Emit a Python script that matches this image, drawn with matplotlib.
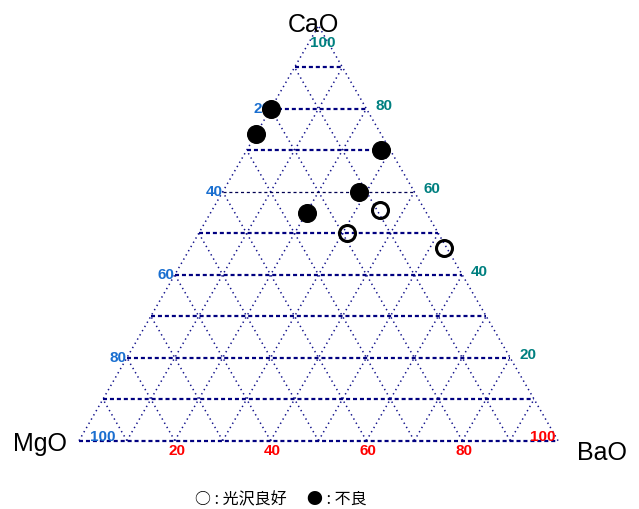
import numpy as np
import matplotlib
matplotlib.use("Agg")
import matplotlib.pyplot as plt

# compositions (CaO, BaO in %, MgO = rest)
cao_good = [55.5, 50.0, 46.5]
bao_good = [35.0, 31.0, 53.0]
cao_bad = [80.0, 74.0, 70.0, 60.0, 55.0]
bao_bad = [0.0, 0.0, 28.0, 28.5, 20.0]

grid_steps = list(range(0, 101, 10))
tick_vals = [20, 40, 60, 80, 100]
labels_good = "○ : 光沢良好"
labels_bad = "● : 不良"

S3 = np.sqrt(3) / 2


def tern(cao, bao):
    cao = np.asarray(cao, dtype=float)
    bao = np.asarray(bao, dtype=float)
    return bao + cao / 2, cao * S3


plt.rcParams['lines.scale_dashes'] = False
fig = plt.figure(figsize=(6.39, 5.09), dpi=100)
ax = fig.add_axes([0, 0, 1, 1])
ax.set_xlim(-16.49, 116.9)
ax.set_ylim(-14.26, 92.0)
ax.axis('off')

navy = '#000080'
dot = dict(color='#10108a', lw=1.1, dashes=(1.0, 2.5), zorder=1)

# oblique lines: constant BaO and constant MgO
for k in grid_steps:
    x, y = tern([0, 100 - k], [k, k])
    ax.plot(x, y, **dot)
    x, y = tern([0, 100 - k], [100 - k, 0])
    ax.plot(x, y, **dot)

# horizontal lines: constant CaO
for k in grid_steps[:-1]:
    x, y = tern([k, k], [0, 100 - k])
    if k == 60:
        ax.plot(x, y, color='#000050', lw=0.9, dashes=(2.2, 2.0), zorder=1)
    else:
        ax.plot(x, y, color=navy, lw=1.6, dashes=(2.9, 2.1), zorder=1)

# tick labels
tk = dict(fontsize=11, fontweight='bold', family='Liberation Sans',
          textcoords='offset pixels', zorder=2)
for v in tick_vals:
    # CaO on right edge
    x, y = tern(v, 100 - v)
    if v == 100:
        ax.annotate(str(v), (x, y), xytext=(4, -17), ha='center', va='center',
                    color='#008080', **tk)
    else:
        ax.annotate(str(v), (x, y), xytext=(9, 3), ha='left', va='center',
                    color='#008080', **tk)
    # MgO on left edge
    x, y = tern(100 - v, 0)
    if v == 100:
        ax.annotate(str(v), (x, y), xytext=(11, 4), ha='left', va='center',
                    color='#1a6fd0', **tk)
    else:
        ax.annotate(str(v), (x, y), xytext=(0, 0), ha='right', va='center',
                    color='#1a6fd0', **tk)
    # BaO on bottom edge
    x, y = tern(0, v)
    if v == 100:
        ax.annotate(str(v), (x, y), xytext=(-3, 4), ha='right', va='center',
                    color='#ff0000', **tk)
    else:
        ax.annotate(str(v), (x, y), xytext=(2, -10), ha='center', va='center',
                    color='#ff0000', **tk)

# corner names
cn = dict(fontsize=18, family='Liberation Sans', textcoords='offset pixels',
          ha='center', va='baseline', color='black')
ax.annotate('CaO', tern(100, 0), xytext=(-5, -6), **cn)
ax.annotate('MgO', tern(0, 0), xytext=(-39, -10), **cn)
ax.annotate('BaO', tern(0, 100), xytext=(44, -19), **cn)

# points
xg, yg = tern(cao_good, bao_good)
ax.plot(xg, yg, 'o', ms=11.5, mfc='none', mec='black', mew=2.2, zorder=4)
xb, yb = tern(cao_bad, bao_bad)
ax.plot(xb, yb, 'o', ms=12.7, mfc='black', mec='black', zorder=4)

# legend text
lg = dict(fontsize=11.5, family=['Noto Sans CJK JP', 'DejaVu Sans'],
          ha='left', va='baseline', transform=None)
fig.text(195, 509 - 504, labels_good, **lg)
fig.text(307, 509 - 504, labels_bad, **lg)

fig.savefig('out.png', dpi=100)
